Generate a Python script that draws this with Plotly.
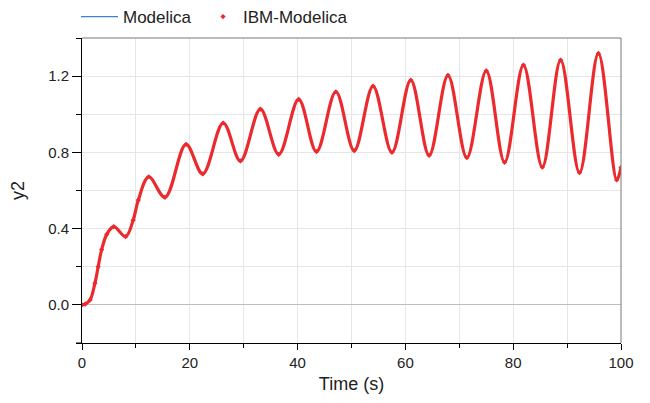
import plotly.graph_objects as go

time_s = [0, 0.6, 1.5, 2.4, 3.0, 3.65, 4.6, 5.9, 8.1, 9.5, 10.45, 12.4, 15.4,
          19.3, 22.4, 26.2, 29.4, 33.1, 36.5, 40.2, 43.5, 47.1, 50.5, 54.0,
          57.5, 61.0, 64.4, 67.9, 71.4, 75.0, 78.4, 81.9, 85.4, 88.8, 92.3,
          95.8, 99.2, 100]
y2_modelica = [0, 0.004, 0.026, 0.114, 0.20, 0.29, 0.37, 0.41, 0.358, 0.445,
               0.55, 0.672, 0.564, 0.842, 0.687, 0.954, 0.755, 1.027, 0.79,
               1.078, 0.804, 1.118, 0.809, 1.148, 0.80, 1.179, 0.784, 1.204,
               0.772, 1.228, 0.748, 1.258, 0.722, 1.284, 0.693, 1.319, 0.655,
               0.72]
y2_ibm = list(y2_modelica)

RED = "#ec2a2e"
BLUE = "#3d7fd9"
FONT = "Liberation Sans, Arial, sans-serif"
W, H = 642, 395

fig = go.Figure()
fig.add_trace(go.Scatter(x=time_s, y=y2_modelica, mode="lines", name="Modelica",
                         legend="legend",
                         line=dict(color=BLUE, width=1.2, shape="spline", smoothing=1)))
fig.add_trace(go.Scatter(x=time_s, y=y2_ibm, mode="lines", name="IBM-Modelica",
                         legendgroup="ibm", showlegend=False,
                         line=dict(color=RED, width=3.2, shape="spline", smoothing=1)))
fig.add_trace(go.Scatter(x=time_s, y=y2_ibm, mode="markers", name="IBM-Modelica",
                         legendgroup="ibm", legend="legend2",
                         marker=dict(symbol="diamond", size=4, color=RED)))

legend_common = dict(orientation="h", xref="container", yref="container",
                     xanchor="left", y=1 - 9 / H, yanchor="middle",
                     font=dict(size=17, color="#222"), bgcolor="rgba(0,0,0,0)")

fig.update_layout(
    width=W, height=H,
    margin=dict(l=74, r=29, t=30, b=60, autoexpand=False),
    paper_bgcolor="white", plot_bgcolor="white",
    font=dict(family=FONT, size=15, color="#222"),
    showlegend=True,
    legend=dict(x=68 / W, itemwidth=37, **legend_common),
    legend2=dict(x=195 / W, **legend_common),
    xaxis=dict(range=[0, 100], dtick=20, tick0=0, showgrid=True, automargin=False,
               gridcolor="#e6e6e6", showline=True, linecolor="black",
               ticks="outside", ticklen=6, tickcolor="black", zeroline=False,
               minor=dict(dtick=10, ticks="outside", ticklen=4, tickcolor="black",
                          showgrid=True, gridcolor="#e6e6e6"),
               title=dict(text="Time (s)", standoff=7),
               tickfont=dict(size=15)),
    yaxis=dict(range=[-0.2, 1.4], dtick=0.4, tick0=0, tickformat=".1f",
               showgrid=True, gridcolor="#e6e6e6", showline=True, automargin=False,
               linecolor="black", ticks="outside", ticklen=9, tickcolor="black",
               zeroline=True, zerolinecolor="#bdbdbd", zerolinewidth=1,
               minor=dict(dtick=0.2, ticks="outside", ticklen=5, tickcolor="black",
                          showgrid=True, gridcolor="#e6e6e6"),
               title=dict(text="y2", standoff=21),
               tickfont=dict(size=15)),
    shapes=[
        dict(type="line", xref="paper", yref="paper", x0=0, x1=1, y0=1, y1=1,
             line=dict(color="#777", width=1)),
        dict(type="line", xref="paper", yref="paper", x0=1, x1=1, y0=0, y1=1,
             line=dict(color="#777", width=1)),
        dict(type="line", xref="paper", yref="paper", x0=-6 / 539, x1=0, y0=0, y1=0,
             line=dict(color="black", width=1)),
    ],
)

fig.write_html("out.html")
